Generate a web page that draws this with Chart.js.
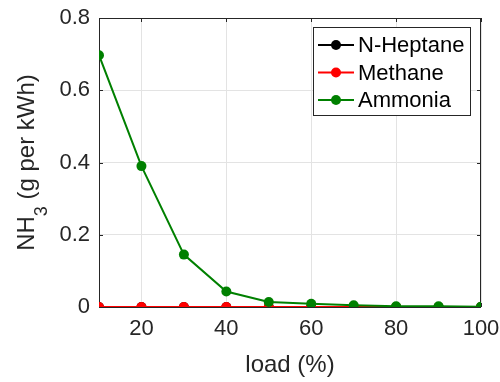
<!DOCTYPE html>
<html>
<head>
<meta charset="utf-8">
<script src="https://cdn.jsdelivr.net/npm/chart.js@4"></script>
<style>
  body { margin: 0; background: #fff; }
</style>
</head>
<body>
<canvas id="c" width="500" height="382"></canvas>
<script>
const loads = [10, 20, 30, 40, 50, 60, 70, 80, 90, 100];
const heptane = [0, 0, 0, 0, 0, 0, 0, 0, 0, 0];
const methane = [0, 0, 0, 0, 0, 0, 0, 0, 0, 0];
const ammonia = [0.697, 0.390, 0.145, 0.043, 0.014, 0.009, 0.005, 0.002, 0.002, 0.001];
const xTicks = [20, 40, 60, 80, 100];
const yTicks = [0, 0.2, 0.4, 0.6, 0.8];
const seriesNames = ["N-Heptane", "Methane", "Ammonia"];
const seriesColors = ["#000000", "#ff0000", "#008000"];

const axisColor = "#262626";
const fontFamily = "'Liberation Sans', Arial, sans-serif";

function series(vals, i, order) {
  return {
    label: seriesNames[i],
    data: loads.map((x, k) => ({ x, y: vals[k] })),
    borderColor: seriesColors[i],
    backgroundColor: seriesColors[i],
    borderWidth: 2,
    pointRadius: 5,
    pointHoverRadius: 5,
    pointBorderWidth: 0,
    order
  };
}

// box, inward ticks, y title with subscript and the legend
const matlabBox = {
  id: "matlabBox",
  beforeDatasetsDraw(chart) {
    const { ctx, chartArea: a, scales } = chart;
    ctx.save();
    ctx.strokeStyle = axisColor;
    ctx.lineWidth = 1;
    ctx.strokeRect(a.left + 0.5, a.top + 0.5, a.right - a.left - 1, a.bottom - a.top);
    ctx.beginPath();
    xTicks.forEach(v => {
      const px = Math.round(scales.x.getPixelForValue(v)) + 0.5;
      ctx.moveTo(px, a.bottom); ctx.lineTo(px, a.bottom - 4);
      ctx.moveTo(px, a.top); ctx.lineTo(px, a.top + 4);
    });
    yTicks.forEach(v => {
      const py = Math.round(scales.y.getPixelForValue(v)) + 0.5;
      ctx.moveTo(a.left, py); ctx.lineTo(a.left + 4, py);
      ctx.moveTo(a.right, py); ctx.lineTo(a.right - 4, py);
    });
    ctx.stroke();
    ctx.restore();
  },
  afterDraw(chart) {
    const { ctx, chartArea: a } = chart;

    // y axis title: NH + subscript 3 + rest
    ctx.save();
    const main = "24px " + fontFamily, sub = "18px " + fontFamily;
    ctx.font = main;
    const w1 = ctx.measureText("NH").width;
    const w3 = ctx.measureText(" (g per kWh)").width;
    ctx.font = sub;
    const w2 = ctx.measureText("3").width;
    const total = w1 + w2 + w3;
    ctx.translate(34, (a.top + a.bottom) / 2);
    ctx.rotate(-Math.PI / 2);
    ctx.fillStyle = axisColor;
    ctx.textBaseline = "alphabetic";
    ctx.textAlign = "left";
    let x = -total / 2;
    ctx.font = main;
    ctx.fillText("NH", x, 0);
    x += w1;
    ctx.font = sub;
    ctx.fillText("3", x, 13);
    x += w2;
    ctx.font = main;
    ctx.fillText(" (g per kWh)", x, 0);
    ctx.restore();

    // legend
    const bx = 313.5, by = 27.5, bw = 157, bh = 88;
    ctx.save();
    ctx.fillStyle = "#fff";
    ctx.fillRect(bx, by, bw, bh);
    ctx.strokeStyle = axisColor;
    ctx.lineWidth = 1;
    ctx.strokeRect(bx, by, bw, bh);
    ctx.font = "22px " + fontFamily;
    ctx.textBaseline = "middle";
    ctx.textAlign = "left";
    seriesNames.forEach((name, i) => {
      const y = 45 + i * 27.5;
      ctx.strokeStyle = seriesColors[i];
      ctx.lineWidth = 2;
      ctx.beginPath();
      ctx.moveTo(318, y); ctx.lineTo(354, y);
      ctx.stroke();
      ctx.fillStyle = seriesColors[i];
      ctx.beginPath();
      ctx.arc(336, y, 5, 0, Math.PI * 2);
      ctx.fill();
      ctx.fillStyle = "#000";
      ctx.fillText(name, 358, y + 1);
    });
    ctx.restore();
  }
};

new Chart(document.getElementById("c"), {
  type: "line",
  data: {
    datasets: [
      series(heptane, 0, 3),
      series(methane, 1, 2),
      series(ammonia, 2, 1)
    ]
  },
  options: {
    responsive: false,
    animation: false,
    layout: { padding: { top: 18, right: 19, left: 0, bottom: 0 } },
    plugins: {
      legend: { display: false },
      tooltip: { enabled: false }
    },
    scales: {
      x: {
        type: "linear",
        min: 10,
        max: 100,
        afterBuildTicks: s => { s.ticks = xTicks.map(v => ({ value: v })); },
        afterFit: s => { s.height = 75; s.paddingLeft = 0; s.paddingRight = 0; },
        grid: { color: "#e3e3e3", drawTicks: false },
        border: { display: false },
        ticks: {
          padding: 9,
          color: axisColor,
          font: { size: 22, family: fontFamily },
          callback: v => String(v)
        },
        title: {
          display: true,
          text: "load (%)",
          color: axisColor,
          font: { size: 24, family: fontFamily },
          padding: { top: 0, bottom: 2 }
        }
      },
      y: {
        min: 0,
        max: 0.8,
        afterBuildTicks: s => { s.ticks = yTicks.map(v => ({ value: v })); },
        afterFit: s => { s.width = 99; s.paddingTop = 0; s.paddingBottom = 0; },
        grid: { color: "#e3e3e3", drawTicks: false },
        border: { display: false },
        ticks: {
          padding: 9,
          color: axisColor,
          font: { size: 22, family: fontFamily },
          callback: v => String(v)
        },
        title: { display: false }
      }
    }
  },
  plugins: [matlabBox]
});
</script>
</body>
</html>
